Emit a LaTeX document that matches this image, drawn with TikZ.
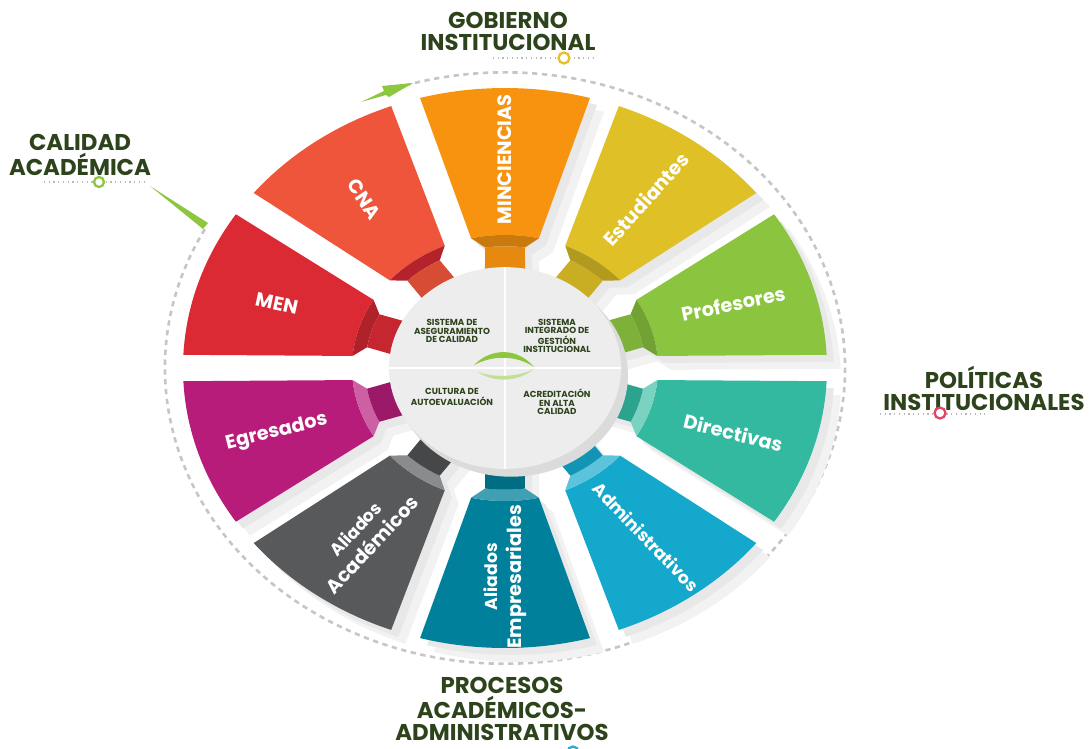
\documentclass[tikz,border=0pt]{standalone}
\usepackage{fontspec}
\setmainfont{Poppins}
\usepackage{xcolor}

\definecolor{minc}{HTML}{F7930F}
\definecolor{estud}{HTML}{DFC027}
\definecolor{prof}{HTML}{8BC53F}
\definecolor{direc}{HTML}{32B9A0}
\definecolor{admin}{HTML}{14A9CC}
\definecolor{empres}{HTML}{00809A}
\definecolor{acad}{HTML}{58595B}
\definecolor{egres}{HTML}{B71C7A}
\definecolor{men}{HTML}{DC2A35}
\definecolor{cna}{HTML}{EE553A}
\definecolor{darkgrn}{HTML}{2D431C}
\definecolor{leaf}{HTML}{8DC63F}
\definecolor{sun}{HTML}{E5C02A}
\definecolor{rose}{HTML}{E8416A}
\definecolor{sky}{HTML}{29ABE2}

\tikzset{
  seglbl/.style={text=white,font=\bfseries\fontsize{11}{13.5}\selectfont,align=center,inner sep=1pt},
  outerlbl/.style={text=darkgrn,font=\bfseries\fontsize{13}{12.5}\selectfont,align=center},
  hubtxt/.style={text=darkgrn,font=\bfseries\fontsize{5}{4.8}\selectfont,align=center,inner sep=1pt},
  markring/.style={draw=#1,line width=1.3pt,fill=white},
  dotline/.style={gray!55,dotted,line width=0.7pt},
  dashring/.style={draw=gray!45,line width=1.5pt,dash pattern=on 3pt off 2.6pt}
}

\newcommand{\segoutline}[1]{({#1-15.3}:322) arc[start angle={#1-15.3},end angle={#1+15.3},radius=322]
  -- ({#1+12.8}:153) -- ({#1+8.2}:140) -- ({#1+10.9}:106) -- ({#1-10.9}:106) -- ({#1-8.2}:140) -- ({#1-12.8}:153) -- cycle}
\newcommand{\smallseg}{\fontsize{9.8}{14.5}\selectfont}

\begin{document}
\begin{tikzpicture}[x=0.02cm,y=-0.02cm]
\useasboundingbox (0,0) rectangle (1089,748);

\begin{scope}[shift={(505,368)},x=0.02cm,y=0.0174cm]
\draw[dashring] (152:340) arc[start angle=152,end angle=467,radius=340];
% soft shadows
\foreach \a in {90,54,...,-162}{
  \fill[black!5,shift={(14,-16)}] \segoutline{\a};
  \fill[black!9,shift={(7,-8)}] \segoutline{\a};
}
\foreach \a/\col/\bv/\nk/\txt/\rot [count=\idx] in {
  90/minc/{minc!82!black}/{minc!93!black}/MINCIENCIAS/90,
  54/estud/{estud!80!black}/{estud!90!black}/Estudiantes/48,
  18/prof/{prof!82!black}/{prof!90!black}/Profesores/12,
  -18/direc/{direc!65!white}/{direc!88!black}/Directivas/-14,
  -54/admin/{admin!70!white}/{admin!88!black}/{\smallseg Administrativos}/-46,
  -90/empres/{empres!75!white}/{empres!85!black}/{\smallseg Aliados\\Empresariales}/90,
  -126/acad/{acad!70!white}/{acad!80!black}/{\smallseg Aliados\\Académicos}/47,
  -162/egres/{egres!70!white}/{egres!85!black}/Egresados/14,
  162/men/{men!80!black}/{men!90!black}/MEN/-12,
  126/cna/{men!82!black}/{cna!90!black}/CNA/-56}{
  \fill[\col] ({\a-12.8}:153) -- ({\a-15.3}:322) arc[start angle=\a-15.3,end angle=\a+15.3,radius=322]
    -- ({\a+12.8}:153) arc[start angle=\a+12.8,end angle=\a-12.8,radius=153] -- cycle;
  \fill[\bv] ({\a-12.8}:153) arc[start angle=\a-12.8,end angle=\a+12.8,radius=153]
    -- ({\a+8.2}:140) arc[start angle=\a+8.2,end angle=\a-8.2,radius=140] -- cycle;
  \fill[\nk] ({\a-8.2}:140) arc[start angle=\a-8.2,end angle=\a+8.2,radius=140]
    -- ({\a+10.9}:106) -- ({\a-10.9}:106) -- cycle;
  \node[seglbl,rotate=\rot] (seg\idx) at (\a:240) {\txt};
}
% hub
\fill[black!14,shift={(6,-8)}] (0,0) circle[radius=117];
\fill[black!7] (0,0) circle[radius=116];
\draw[white,line width=1.6pt] (0,-116) -- (0,116);
\draw[white,line width=1.6pt] (-116,0) -- (116,0);
\end{scope}

% swoosh
\fill[leaf] (474,365) .. controls (492,347) and (518,348) .. (534,367) .. controls (516,355) and (493,355) .. cycle;
\fill[leaf!55] (478,372) .. controls (494,383) and (518,382) .. (534,369) .. controls (518,377) and (495,378) .. cycle;

\node[hubtxt] (hubA) at (452,331) {SISTEMA DE\\ASEGURAMIENTO\\DE CALIDAD};
\node[hubtxt] (hubB) at (557,336) {SISTEMA\\INTEGRADO DE\\GESTIÓN\\INSTITUCIONAL};
\node[hubtxt] (hubC) at (452,397) {CULTURA DE\\AUTOEVALUACIÓN};
\node[hubtxt] (hubD) at (557,402) {ACREDITACIÓN\\EN ALTA\\CALIDAD};

% pointers
\fill[leaf] (361,102) -- (384,91) -- (382,86) -- (413,83) -- (389,97) -- (386,95) -- cycle;
\fill[leaf] (150,186) -- (208,223) -- (203,229) -- cycle;

% outer labels
\node[outerlbl] (calidad) at (80,155) {CALIDAD\\ACADÉMICA};
\draw[dotline] (44,182) -- (148,182);
\draw[markring=leaf] (99,182) circle[radius=5];

\node[outerlbl] (gobierno) at (508,31) {GOBIERNO\\INSTITUCIONAL};
\draw[dotline] (493,58) -- (597,58);
\draw[markring=sun] (564,58) circle[radius=5.5];

\node[outerlbl] (politicas) at (984,388) {POLÍTICAS\\INSTITUCIONALES};
\draw[dotline] (880,414) -- (985,414);
\draw[markring=rose] (940,413) circle[radius=5.5];

\node[outerlbl] (procesos) at (502,709) {PROCESOS\\ACADÉMICOS-\\ADMINISTRATIVOS};
\draw[markring=sky] (573,752) circle[radius=5.5];
\end{tikzpicture}
\end{document}
